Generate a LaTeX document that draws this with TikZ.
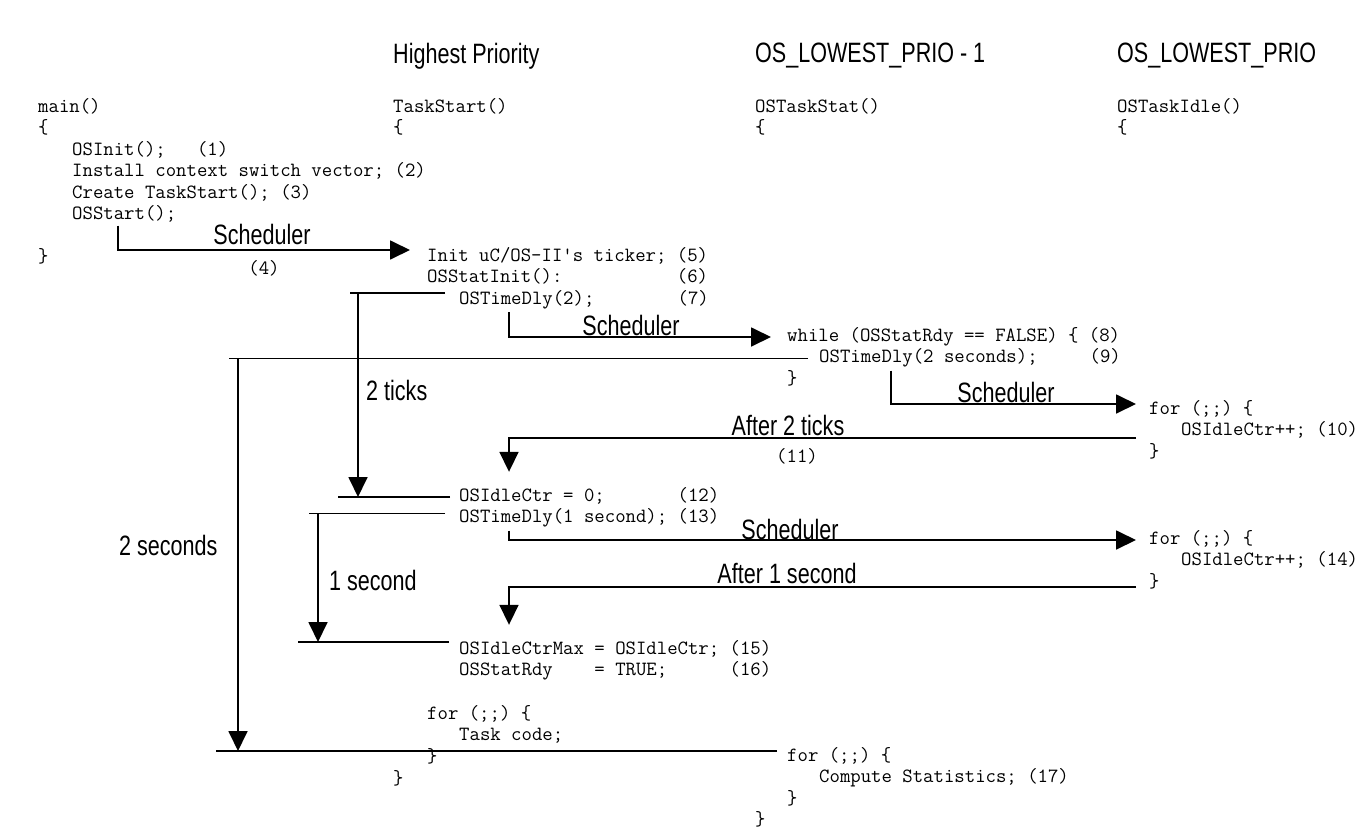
\documentclass[tikz,border=0pt]{standalone}
\usepackage{fontspec}
\newfontfamily\labfont[FakeStretch=0.77]{Liberation Sans}
\usepackage{tikz}
\usetikzlibrary{arrows.meta}

\begin{document}
\begin{tikzpicture}[x=1pt, y=-1pt,
    code/.style={font=\ttfamily\fontsize{20.2}{21.5}\selectfont, anchor=west,
                 inner sep=0pt, text height=12pt, text depth=4pt},
    lbl/.style={font=\labfont\fontsize{28}{32}\selectfont, inner sep=0pt},
    flow/.style={line width=1.8pt},
    tip/.style={-{Triangle[length=20pt, width=19pt]}}]
      \useasboundingbox (0, 0) rectangle (1365, 838);
      \node[lbl, anchor=west] (hp) at (393, 56) {Highest Priority};
      \node[lbl, anchor=west] (lp1) at (755, 56) {OS\_LOWEST\_PRIO - 1};
      \node[lbl, anchor=west] (lp) at (1117, 56) {OS\_LOWEST\_PRIO};

      \node[code] (main) at (38, 108) {main()};
      \node[code] (mainob) at (38, 129.5) {\{};
      \node[code] (osinit) at (72, 151) {OSInit();~~~(1)};
      \node[code] (install) at (72, 172.5) {Install context switch vector; (2)};
      \node[code] (create) at (72, 194) {Create TaskStart(); (3)};
      \node[code] (osstart) at (72, 215.5) {OSStart();};
      \node[code] (maincb) at (38, 258) {\}};

      \node[code] (taskstart) at (393, 108) {TaskStart()};
      \node[code] (tsob) at (393, 129.5) {\{};
      \node[code] (init) at (427, 257) {Init uC/OS-II's ticker; (5)};
      \node[code] (statinit) at (427, 278.5) {OSStatInit():~~~~~~~~~~~(6)};
      \node[code] (dly2) at (459, 300) {OSTimeDly(2);~~~~~~~~(7)};
      \node[code] (ctr0) at (459, 497) {OSIdleCtr = 0;~~~~~~~(12)};
      \node[code] (dly1) at (459, 518.5) {OSTimeDly(1 second); (13)};
      \node[code] (ctrmax) at (459, 650) {OSIdleCtrMax = OSIdleCtr; (15)};
      \node[code] (statrdy) at (459, 671.5) {OSStatRdy~~~~= TRUE;~~~~~~(16)};
      \node[code] (taskfor) at (427, 715) {for (;;) \{};
      \node[code] (taskcode) at (459, 736.5) {Task code;};
      \node[code] (taskforcb) at (427, 758) {\}};
      \node[code] (tscb) at (393, 780) {\}};

      \node[code] (taskstat) at (755, 108) {OSTaskStat()};
      \node[code] (tstob) at (755, 129.5) {\{};
      \node[code] (while) at (787, 337) {while (OSStatRdy == FALSE) \{ (8)};
      \node[code] (dly2s) at (819, 358.5) {OSTimeDly(2 seconds);~~~~~(9)};
      \node[code] (whilecb) at (787, 380) {\}};
      \node[code] (statfor) at (787, 757) {for (;;) \{};
      \node[code] (compute) at (819, 778.5) {Compute Statistics; (17)};
      \node[code] (statforcb) at (787, 800) {\}};
      \node[code] (tstcb) at (755, 821.5) {\}};

      \node[code] (taskidle) at (1117, 108) {OSTaskIdle()};
      \node[code] (tiob) at (1117, 129.5) {\{};
      \node[code] (idlefora) at (1149, 410) {for (;;) \{};
      \node[code] (idlea) at (1181, 431.5) {OSIdleCtr++; (10)};
      \node[code] (idleforacb) at (1149, 453) {\}};
      \node[code] (idleforb) at (1149, 540) {for (;;) \{};
      \node[code] (idleb) at (1181, 561.5) {OSIdleCtr++; (14)};
      \node[code] (idleforbcb) at (1149, 583) {\}};

      \node[lbl, anchor=base] (sch1) at (262, 244) {Scheduler};
      \node[code, anchor=center] (step4) at (264, 270) {(4)};
      \node[lbl, anchor=base] (sch2) at (631, 335) {Scheduler};
      \node[lbl, anchor=west] (ticks2) at (366, 390) {2 ticks};
      \node[lbl, anchor=base] (sch3) at (1006, 402) {Scheduler};
      \node[lbl, anchor=base] (after2) at (788, 435) {After 2 ticks};
      \node[code, anchor=center] (step11) at (797, 458) {(11)};
      \node[lbl, anchor=base] (sch4) at (790, 539) {Scheduler};
      \node[lbl, anchor=base] (after1) at (787, 583) {After 1 second};
      \node[lbl, anchor=west] (sec1) at (329, 580) {1 second};
      \node[lbl, anchor=west] (sec2) at (119, 545) {2 seconds};

      \draw[flow, tip] ([xshift=46pt, yshift=-2pt]osstart.south west) |- ([xshift=-17pt, yshift=7pt]init.west);
      \draw[flow] ([xshift=-14pt, yshift=7pt]dly2.west) -- ++(-95, 0) coordinate (tick2left);
      \draw[flow] ([xshift=-9pt]ctr0.west) -- ++(-112, 0) coordinate (tick2base);
      \draw[flow, tip] ([xshift=8pt]tick2left) -- ([xshift=20pt]tick2base);
      \draw[flow, tip] ([xshift=50pt, yshift=-4pt]dly2.south west) |- ([xshift=-16pt]while.west);

      \draw[flow] ([xshift=-11pt]dly2s.west) -- ++(-579, 0) coordinate (sec2top);
      \draw[flow] ([xshift=-10pt, yshift=6pt]statfor.west) -- ++(-561, 0) coordinate (sec2base);
      \draw[flow, tip] ([xshift=9pt]sec2top) -- ([xshift=22pt]sec2base);
      \draw[flow, tip] ([xshift=72pt, yshift=-4pt]dly2s.south west) |- ([xshift=-13pt, yshift=6pt]idlefora.west);
      \draw[flow, tip] ([xshift=-13pt, yshift=-28pt]idlefora.west) -| ([xshift=50pt, yshift=17pt]ctr0.north west);

      \draw[flow] ([xshift=-14pt, yshift=5pt]dly1.west) -- ++(-136, 0) coordinate (sec1top);
      \draw[flow] ([xshift=-10pt, yshift=8pt]ctrmax.west) -- ++(-151, 0) coordinate (sec1base);
      \draw[flow, tip] ([xshift=9pt]sec1top) -- ([xshift=20pt]sec1base);
      \draw[flow, tip] ([xshift=50pt, yshift=-4pt]dly1.south west) |- ([xshift=-13pt]idleforb.west);
      \draw[flow, tip] ([xshift=-13pt, yshift=-4pt]idleforbcb.west) -| ([xshift=50pt, yshift=17pt]ctrmax.north west);
\end{tikzpicture}
\end{document}
